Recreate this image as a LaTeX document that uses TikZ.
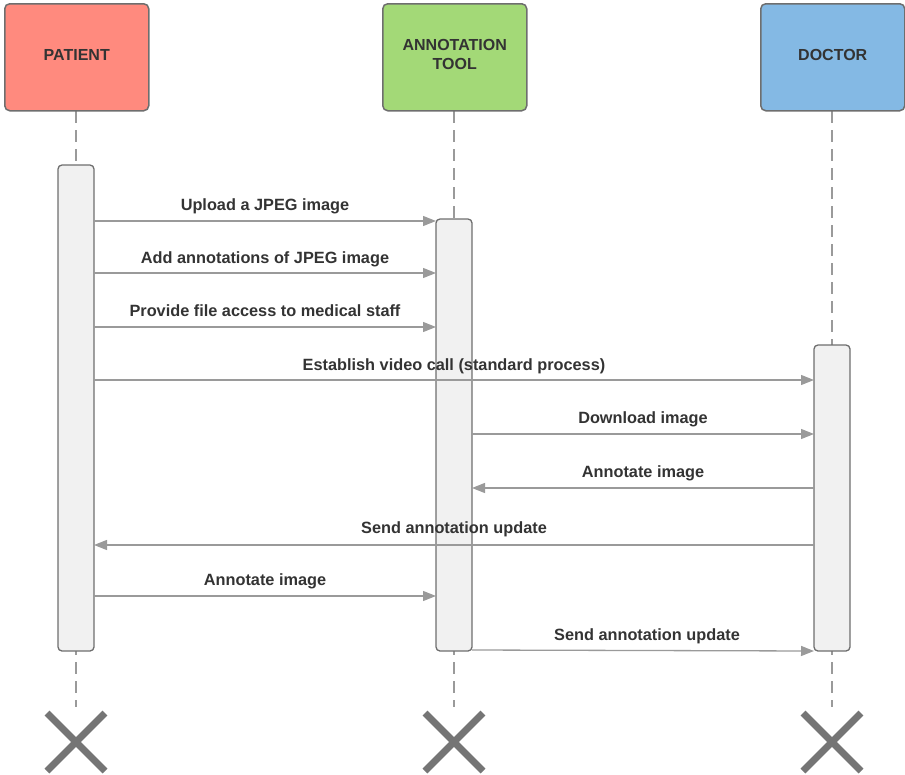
\documentclass[tikz,border=0pt]{standalone}
\usepackage{fontspec}
\setmainfont{Liberation Sans}
\usetikzlibrary{arrows.meta}
\definecolor{patientred}{HTML}{FF8A7E}
\definecolor{toolgreen}{HTML}{A3D977}
\definecolor{doctorblue}{HTML}{84B9E4}
\definecolor{edgegray}{HTML}{6E6E6E}
\definecolor{linegray}{HTML}{9A9A9A}
\definecolor{textgray}{HTML}{333333}
\definecolor{barfill}{HTML}{F1F1F1}
\tikzset{
  x=1pt, y=-1pt,
  actor/.style={draw=edgegray, line width=1.5pt, rounded corners=5pt,
    minimum width=144pt, minimum height=107pt, anchor=north west,
    inner sep=0pt, align=center, text=textgray,
    font=\fontsize{16}{19}\selectfont\bfseries},
  actortext/.style={inner sep=0pt, align=center, text=textgray,
    font=\fontsize{16}{19}\selectfont\bfseries},
  actbar/.style={draw=edgegray, line width=1.3pt, fill=barfill,
    rounded corners=4pt},
  lifeline/.style={draw=linegray, line width=1.3pt, dash pattern=on 12pt off 7pt},
  msg/.style={draw=linegray, line width=1.3pt,
    -{Triangle[length=13pt,width=10pt]}},
  msglabel/.style={text=textgray, font=\fontsize{16.3}{18}\selectfont\bfseries,
    inner sep=0pt, anchor=base},
  endmark/.style={draw=edgegray!95, line width=7pt},
}
\begin{document}
\begin{tikzpicture}
\useasboundingbox (0,0) rectangle (905,774);

% lifelines
\draw[lifeline] (76,111) -- (76,707);
\draw[lifeline] (454,111) -- (454,707);
\draw[lifeline] (832,111) -- (832,707);

% actors
\node[actor, fill=patientred] (patient) at (4,3) {};
\node[actor, fill=toolgreen] (tool) at (382,3) {};
\node[actor, fill=doctorblue] (doctor) at (760,3) {};
\node[actortext] (patientname) at ([yshift=2.5pt]patient.center) {PATIENT};
\node[actortext] (toolname) at ([yshift=2.5pt]tool.center) {ANNOTATION\\TOOL};
\node[actortext] (doctorname) at ([yshift=2.5pt]doctor.center) {DOCTOR};

% activation bars
\filldraw[actbar] (58,165) rectangle (94,651);
\filldraw[actbar] (436,219) rectangle (472,651);
\filldraw[actbar] (814,345) rectangle (850,651);

% message anchor points
\coordinate (p1) at (94,221);  \coordinate (t1) at (436,221);
\coordinate (p2) at (94,273);  \coordinate (t2) at (436,273);
\coordinate (p3) at (94,327);  \coordinate (t3) at (436,327);
\coordinate (p4) at (94,380);  \coordinate (d4) at (814,380);
\coordinate (t5) at (472,434); \coordinate (d5) at (814,434);
\coordinate (d6) at (814,488); \coordinate (t6) at (472,488);
\coordinate (d7) at (814,545); \coordinate (p7) at (94,545);
\coordinate (p8) at (94,596);  \coordinate (t8) at (436,596);
\coordinate (t9) at (472,650); \coordinate (d9) at (814,651);

% messages
\draw[msg] (p1) -- (t1);
\draw[msg] (p2) -- (t2);
\draw[msg] (p3) -- (t3);
\draw[msg] (p4) -- (d4);
\draw[msg] (t5) -- (d5);
\draw[msg] (d6) -- (t6);
\draw[msg] (d7) -- (p7);
\draw[msg] (p8) -- (t8);
\draw[msg] (t9) -- (d9);

% message labels
\node[msglabel] (l1) at (265,210) {Upload a JPEG image};
\node[msglabel] (l2) at (265,263) {Add annotations of JPEG image};
\node[msglabel] (l3) at (265,316) {Provide file access to medical staff};
\node[msglabel] (l4) at (454,370) {Establish video call (standard process)};
\node[msglabel] (l5) at (643,423) {Download image};
\node[msglabel] (l6) at (643,477) {Annotate image};
\node[msglabel] (l7) at (454,533) {Send annotation update};
\node[msglabel] (l8) at (265,585) {Annotate image};
\node[msglabel] (l9) at (647,640) {Send annotation update};

% destruction marks
\foreach \cx in {76,454,832}{
  \draw[endmark] (\cx-29,713) -- (\cx+29,771);
  \draw[endmark] (\cx-29,771) -- (\cx+29,713);
}
\end{tikzpicture}
\end{document}
